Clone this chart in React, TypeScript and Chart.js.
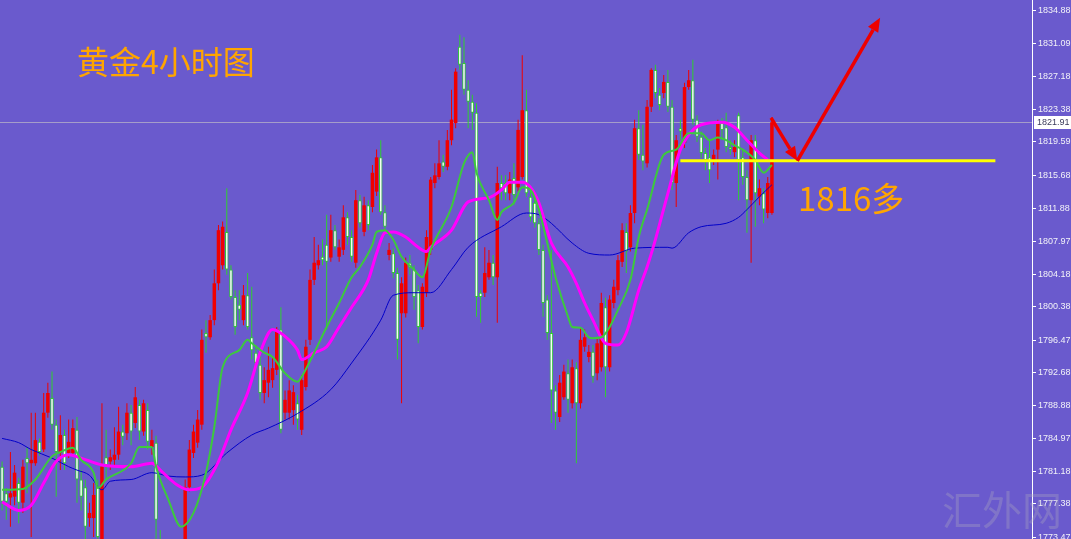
import React, { useEffect, useRef } from 'react';
import { Chart, registerables } from 'chart.js';

Chart.register(...registerables);

// ---- data (4-hour gold candles) ----
const SLOT_COUNT = 248; // candle slots across the plot (right part left empty)

const openPrices = [
  1781.7, 1778.6, 1778.1, 1778.2, 1779.8, 1777.5, 1782.7, 1782.1, 1782.1, 1784.6,
  1783.7, 1788.0, 1789.7, 1786.6, 1783.3, 1785.4, 1783.3, 1783.3, 1786.0, 1780.2,
  1779.3, 1775.7, 1775.7, 1779.3, 1773.1, 1782.8, 1782.3, 1782.5, 1783.1, 1785.8,
  1785.6, 1788.0, 1786.8, 1788.9, 1785.8, 1788.3, 1784.0, 1784.5, 1773.1, 1770.8,
  1772.0, 1770.2, 1770.8, 1772.2, 1771.4, 1779.3, 1783.3, 1784.5, 1786.6, 1797.3,
  1796.8, 1798.8, 1803.1, 1805.2, 1809.1, 1804.7, 1801.5, 1800.6, 1798.8, 1801.7,
  1796.8, 1795.0, 1793.6, 1790.3, 1791.5, 1791.8, 1793.0, 1797.7, 1788.0, 1788.0,
  1788.3, 1789.1, 1786.0, 1791.0, 1796.5, 1803.5, 1805.2, 1806.2, 1807.6, 1806.1,
  1809.3, 1806.2, 1807.0, 1810.8, 1808.5, 1805.5, 1812.8, 1809.1, 1812.2, 1812.0,
  1813.8, 1817.8, 1811.4, 1806.4, 1806.6, 1804.3, 1799.6, 1799.6, 1805.5, 1804.7,
  1802.3, 1798.0, 1802.0, 1807.0, 1814.8, 1815.5, 1817.3, 1816.7, 1819.8, 1821.8,
  1830.7, 1828.8, 1825.7, 1824.3, 1823.0, 1802.0, 1802.0, 1803.8, 1805.5, 1803.8,
  1814.8, 1814.8, 1813.6, 1815.4, 1814.3, 1815.5, 1823.3, 1813.2, 1812.5, 1810.1,
  1807.0, 1801.2, 1797.3, 1790.6, 1787.5, 1789.8, 1792.6, 1789.1, 1793.2, 1789.1,
  1795.7, 1794.5, 1795.1, 1792.6, 1793.3, 1800.3, 1793.3, 1800.8, 1802.3, 1805.6,
  1809.1, 1807.3, 1811.3, 1821.2, 1818.1, 1817.1, 1823.7, 1828.0, 1825.1, 1825.3,
  1826.6, 1823.7, 1814.8, 1821.2, 1819.5, 1826.0, 1826.8, 1822.2, 1820.2, 1818.3,
  1817.8, 1817.5, 1818.7, 1821.8, 1821.3, 1819.0, 1818.4, 1822.7, 1817.8, 1815.5,
  1812.8, 1819.8, 1813.2, 1813.6, 1811.3, 1811.3,
];

const highPrices = [
  1782.3, 1779.2, 1783.4, 1781.9, 1780.4, 1782.5, 1784.0, 1788.0, 1788.0, 1785.0,
  1790.3, 1791.5, 1792.8, 1787.2, 1787.7, 1786.0, 1787.2, 1787.2, 1787.5, 1781.3,
  1780.2, 1777.5, 1779.8, 1780.2, 1789.1, 1786.0, 1783.7, 1786.3, 1788.7, 1786.6,
  1789.1, 1788.9, 1791.0, 1789.5, 1789.5, 1789.1, 1786.0, 1785.3, 1774.3, 1772.6,
  1772.6, 1772.2, 1772.8, 1773.0, 1780.2, 1784.8, 1786.6, 1788.3, 1797.7, 1798.8,
  1799.4, 1804.7, 1809.9, 1810.3, 1814.2, 1805.2, 1802.3, 1802.3, 1802.9, 1804.3,
  1802.7, 1795.9, 1794.7, 1793.3, 1795.7, 1794.5, 1798.0, 1800.3, 1790.6, 1791.8,
  1791.2, 1790.1, 1792.4, 1796.5, 1804.7, 1808.5, 1807.6, 1808.2, 1811.1, 1811.1,
  1809.9, 1808.2, 1812.2, 1811.4, 1809.3, 1814.0, 1813.4, 1813.2, 1812.8, 1816.9,
  1818.7, 1819.8, 1812.2, 1807.8, 1807.2, 1804.9, 1803.8, 1806.1, 1806.4, 1805.2,
  1802.9, 1803.1, 1809.3, 1815.5, 1817.1, 1819.8, 1818.1, 1821.0, 1825.7, 1828.2,
  1832.1, 1831.8, 1826.8, 1825.1, 1824.1, 1802.3, 1807.3, 1807.0, 1806.4, 1816.7,
  1815.7, 1815.7, 1816.1, 1817.1, 1822.2, 1829.7, 1825.7, 1814.0, 1813.1, 1810.7,
  1807.6, 1801.7, 1807.0, 1791.2, 1792.4, 1793.6, 1794.2, 1794.2, 1793.9, 1798.0,
  1797.7, 1795.9, 1795.9, 1796.7, 1802.0, 1801.4, 1801.7, 1803.5, 1806.4, 1810.1,
  1810.1, 1812.2, 1822.2, 1823.3, 1821.6, 1824.5, 1828.2, 1828.6, 1825.9, 1827.4,
  1828.0, 1824.5, 1820.4, 1822.2, 1826.5, 1828.0, 1829.2, 1822.7, 1820.8, 1818.9,
  1819.8, 1818.7, 1822.2, 1822.4, 1823.0, 1819.8, 1819.8, 1823.0, 1818.7, 1816.3,
  1820.4, 1820.4, 1815.2, 1814.2, 1815.5, 1822.5,
];

const lowPrices = [
  1776.6, 1775.5, 1774.7, 1777.2, 1775.1, 1776.3, 1778.6, 1773.5, 1781.8, 1783.0,
  1783.4, 1787.4, 1786.0, 1778.2, 1781.3, 1781.3, 1782.7, 1783.0, 1777.5, 1776.6,
  1772.6, 1774.7, 1773.5, 1772.6, 1772.6, 1780.2, 1781.3, 1781.9, 1782.5, 1784.2,
  1784.8, 1784.2, 1786.2, 1784.8, 1785.3, 1783.7, 1783.1, 1772.6, 1770.8, 1769.6,
  1769.1, 1769.1, 1770.2, 1770.2, 1770.8, 1778.8, 1782.7, 1783.9, 1786.0, 1795.0,
  1796.5, 1798.2, 1802.3, 1804.7, 1804.1, 1801.2, 1797.1, 1798.8, 1798.2, 1797.7,
  1794.2, 1793.0, 1789.5, 1789.1, 1789.8, 1790.9, 1792.4, 1785.6, 1787.2, 1787.2,
  1786.6, 1786.0, 1785.4, 1790.6, 1795.9, 1802.9, 1804.7, 1805.2, 1797.7, 1805.6,
  1807.0, 1805.6, 1806.4, 1807.6, 1805.6, 1804.9, 1809.6, 1808.6, 1809.3, 1811.4,
  1813.3, 1811.1, 1809.1, 1805.8, 1803.7, 1794.2, 1789.1, 1799.1, 1804.1, 1800.0,
  1796.1, 1797.7, 1801.5, 1806.4, 1814.2, 1815.2, 1816.1, 1816.3, 1819.2, 1821.2,
  1828.0, 1825.1, 1821.2, 1821.0, 1799.2, 1798.5, 1801.5, 1803.5, 1802.9, 1798.5,
  1812.8, 1812.8, 1812.8, 1812.2, 1813.8, 1815.2, 1813.2, 1810.3, 1809.6, 1806.4,
  1799.2, 1796.5, 1786.8, 1786.0, 1786.9, 1789.5, 1788.0, 1788.5, 1782.1, 1788.5,
  1795.1, 1793.9, 1791.5, 1791.8, 1792.8, 1789.8, 1792.8, 1800.2, 1801.7, 1805.0,
  1804.3, 1806.8, 1810.1, 1817.5, 1816.3, 1816.6, 1823.1, 1824.7, 1823.3, 1824.7,
  1823.1, 1814.0, 1812.0, 1819.8, 1818.9, 1825.7, 1821.6, 1819.6, 1817.7, 1816.3,
  1814.8, 1816.9, 1815.2, 1819.8, 1818.4, 1818.1, 1817.8, 1812.8, 1814.6, 1809.0,
  1805.5, 1809.7, 1812.2, 1810.1, 1810.7, 1811.1,
];

const closePrices = [
  1777.6, 1777.6, 1778.6, 1781.0, 1777.5, 1781.7, 1782.1, 1782.5, 1784.8, 1783.4,
  1788.0, 1790.3, 1786.6, 1783.4, 1785.4, 1782.1, 1784.6, 1786.2, 1780.2, 1778.2,
  1774.7, 1776.3, 1778.4, 1773.5, 1781.7, 1781.9, 1782.8, 1783.1, 1785.8, 1785.2,
  1788.0, 1785.8, 1789.8, 1785.8, 1789.1, 1784.6, 1784.8, 1775.5, 1771.4, 1772.0,
  1770.2, 1771.4, 1772.2, 1771.0, 1779.3, 1783.7, 1785.8, 1787.2, 1796.5, 1796.8,
  1798.8, 1803.1, 1809.3, 1809.7, 1804.7, 1801.5, 1798.0, 1800.0, 1801.7, 1798.0,
  1795.3, 1793.8, 1790.3, 1791.8, 1793.0, 1793.2, 1797.7, 1786.0, 1789.5, 1790.6,
  1790.4, 1787.2, 1791.8, 1795.7, 1803.5, 1805.5, 1805.8, 1805.8, 1805.6, 1809.3,
  1807.3, 1807.3, 1810.8, 1808.5, 1806.2, 1812.8, 1810.1, 1812.2, 1809.9, 1816.0,
  1817.8, 1811.4, 1809.7, 1807.0, 1804.3, 1796.5, 1803.1, 1805.5, 1804.9, 1801.5,
  1798.0, 1802.7, 1808.5, 1815.2, 1815.7, 1817.1, 1816.7, 1819.8, 1822.2, 1827.8,
  1828.6, 1825.7, 1824.3, 1823.0, 1801.5, 1801.5, 1804.3, 1805.5, 1803.8, 1814.8,
  1814.2, 1813.6, 1815.2, 1813.4, 1821.0, 1823.3, 1813.6, 1810.8, 1810.1, 1807.0,
  1800.8, 1797.3, 1790.6, 1788.0, 1791.5, 1792.8, 1789.5, 1793.3, 1789.1, 1796.5,
  1796.8, 1795.1, 1792.2, 1796.1, 1800.8, 1793.3, 1801.2, 1802.7, 1805.8, 1809.3,
  1806.8, 1811.3, 1821.2, 1818.1, 1817.3, 1823.7, 1828.0, 1825.3, 1823.9, 1826.6,
  1823.7, 1814.8, 1819.8, 1820.8, 1826.0, 1826.8, 1822.2, 1820.2, 1818.3, 1817.5,
  1816.3, 1818.1, 1821.8, 1821.0, 1819.0, 1818.7, 1819.0, 1817.5, 1815.5, 1812.8,
  1819.8, 1813.6, 1814.2, 1811.7, 1814.8, 1821.9,
];

// moving averages read at sample candles: [candle index, value]
const maFast: [number, number][] = [
  [0, 1779.0], [5, 1779.1], [8, 1780.2], [12, 1782.9], [14, 1783.4], [17, 1783.9], [19, 1782.5],
  [22, 1781.0], [23, 1779.2], [25, 1780.2], [31, 1782.1], [33, 1784.0], [36, 1784.0], [37, 1781.7],
  [40, 1777.8], [43, 1774.7], [46, 1776.3], [49, 1781.0], [51, 1786.3], [53, 1793.3], [57, 1795.3],
  [59, 1796.5], [60, 1796.1], [63, 1795.0], [65, 1794.5], [68, 1792.6], [71, 1791.6], [72, 1792.2],
  [75, 1795.0], [78, 1798.0], [81, 1800.8], [84, 1803.8], [86, 1805.0], [89, 1807.6], [90, 1809.1],
  [92, 1809.3], [94, 1808.2], [96, 1806.2], [99, 1804.7], [101, 1803.8], [103, 1807.0], [108, 1812.0],
  [111, 1817.1], [113, 1818.4], [114, 1816.0], [117, 1812.8], [119, 1810.5], [120, 1811.4],
  [123, 1812.5], [125, 1814.3], [127, 1814.0], [129, 1811.7], [131, 1807.8], [133, 1803.8],
  [136, 1799.2], [137, 1798.0], [139, 1797.9], [141, 1796.8], [142, 1796.7], [144, 1796.8],
  [146, 1798.0], [148, 1800.0], [151, 1803.5], [153, 1808.5], [155, 1811.7], [159, 1818.1],
  [162, 1818.7], [165, 1820.6], [168, 1820.6], [170, 1819.8], [172, 1820.1], [174, 1819.8],
  [176, 1819.2], [178, 1818.7], [181, 1817.5], [183, 1816.0], [185, 1816.9],
];

const maMid: [number, number][] = [
  [0, 1777.6], [4, 1776.6], [7, 1777.2], [10, 1779.8], [13, 1782.3], [16, 1783.1], [19, 1782.7],
  [24, 1781.9], [31, 1781.7], [36, 1782.1], [38, 1781.3], [42, 1779.6], [45, 1779.0], [48, 1779.3],
  [52, 1782.3], [55, 1786.0], [59, 1790.3], [62, 1795.0], [65, 1797.7], [68, 1796.9], [71, 1795.3],
  [72, 1794.2], [75, 1795.0], [78, 1795.7], [81, 1798.0], [84, 1800.3], [88, 1803.5], [90, 1806.6],
  [92, 1809.0], [94, 1809.1], [97, 1808.5], [100, 1807.3], [102, 1806.8], [103, 1807.3],
  [108, 1809.3], [112, 1812.6], [117, 1813.1], [120, 1814.0], [122, 1814.9], [125, 1814.9],
  [127, 1814.3], [129, 1812.5], [132, 1807.8], [136, 1805.0], [138, 1803.1], [140, 1800.8],
  [142, 1798.8], [145, 1796.1], [148, 1795.9], [150, 1797.3], [153, 1802.3], [155, 1805.0],
  [157, 1808.2], [160, 1813.6], [163, 1818.7], [166, 1821.0], [168, 1821.6], [173, 1821.9],
  [176, 1821.3], [179, 1819.8], [182, 1818.3], [184, 1817.5],
];

const maSlow: [number, number][] = [
  [0, 1785.0], [4, 1784.5], [7, 1783.7], [12, 1782.7], [16, 1781.7], [18, 1781.3], [21, 1780.7],
  [24, 1779.0], [26, 1780.0], [31, 1780.2], [36, 1781.0], [40, 1780.6], [44, 1780.5], [48, 1780.7],
  [54, 1783.3], [60, 1785.4], [64, 1786.2], [71, 1787.9], [79, 1790.7], [84, 1793.8], [91, 1798.8],
  [94, 1801.7], [99, 1802.0], [103, 1802.0], [108, 1804.7], [112, 1807.3], [120, 1809.7],
  [126, 1811.3], [129, 1811.1], [132, 1810.1], [137, 1807.8], [141, 1806.6], [146, 1806.4],
  [152, 1807.2], [160, 1807.3], [161, 1807.2], [165, 1809.0], [168, 1809.7], [174, 1810.1],
  [177, 1810.8], [179, 1811.7], [182, 1813.2], [185, 1814.6],
];

const tickValues = [
  1834.88, 1831.09, 1827.18, 1823.38, 1819.59, 1815.68, 1811.88, 1807.97, 1804.18,
  1800.38, 1796.47, 1792.68, 1788.88, 1784.97, 1781.18, 1777.38, 1773.47,
];

const Y_MIN = 1773.26;
const Y_MAX = 1836.16;
const LAST_PRICE = 1821.91;

// annotations (in candle index / price units)
const supportLevel = 1817.4;
const supportFrom = 163;
const supportTo = 238.7;
const arrowPath = [
  { i: 184.8, v: 1822.4 },
  { i: 191.1, v: 1817.4 },
  { i: 211.0, v: 1834.1 },
];

// ---- styles ----
const BG = '#6A5ACD';
const UP_COLOR = '#F00000';
const DOWN_COLOR = '#2FD02F';
const DOWN_FILL = '#F4FFF0';
const AXIS_FONT = '"Liberation Sans", Arial, sans-serif';

function drawArrow(ctx: CanvasRenderingContext2D, x1: number, y1: number, x2: number, y2: number, color: string, w: number, head: number) {
  const ang = Math.atan2(y2 - y1, x2 - x1);
  const bx = x2 - head * Math.cos(ang);
  const by = y2 - head * Math.sin(ang);
  ctx.strokeStyle = color;
  ctx.lineWidth = w;
  ctx.beginPath();
  ctx.moveTo(x1, y1);
  ctx.lineTo(bx, by);
  ctx.stroke();
  const hw = head * 0.42;
  ctx.fillStyle = color;
  ctx.beginPath();
  ctx.moveTo(x2, y2);
  ctx.lineTo(bx + hw * Math.sin(ang), by - hw * Math.cos(ang));
  ctx.lineTo(bx - hw * Math.sin(ang), by + hw * Math.cos(ang));
  ctx.closePath();
  ctx.fill();
}

const annotationPlugin = {
  id: 'annotations',
  beforeDatasetsDraw(chart: any) {
    const { ctx, chartArea, scales } = chart;
    const py = Math.round(scales.y.getPixelForValue(LAST_PRICE)) + 0.5;
    ctx.save();
    ctx.strokeStyle = '#A59DC9';
    ctx.lineWidth = 1;
    ctx.beginPath();
    ctx.moveTo(chartArea.left, py);
    ctx.lineTo(chartArea.right, py);
    ctx.stroke();
    ctx.restore();
  },
  afterDatasetsDraw(chart: any) {
    const { ctx, scales } = chart;
    const x = scales.x;
    const y = scales.y;
    ctx.save();
    const sy = y.getPixelForValue(supportLevel);
    ctx.strokeStyle = '#FFFF00';
    ctx.lineWidth = 3;
    ctx.beginPath();
    ctx.moveTo(x.getPixelForValue(supportFrom), sy);
    ctx.lineTo(x.getPixelForValue(supportTo), sy);
    ctx.stroke();
    const pts = arrowPath.map((p) => ({ px: x.getPixelForValue(p.i), py: y.getPixelForValue(p.v) }));
    for (let k = 0; k < pts.length - 1; k++) {
      drawArrow(ctx, pts[k].px, pts[k].py, pts[k + 1].px, pts[k + 1].py, '#EE0000', 3.5, 14);
    }
    ctx.restore();
  },
  afterDraw(chart: any) {
    const { ctx, chartArea, scales, width } = chart;
    const py = Math.round(scales.y.getPixelForValue(LAST_PRICE));
    ctx.save();
    ctx.fillStyle = '#FFFFFF';
    ctx.fillRect(chartArea.right + 2, py - 6, width - chartArea.right - 2, 13);
    ctx.fillStyle = '#3A3A5A';
    ctx.font = '9px ' + AXIS_FONT;
    ctx.textBaseline = 'middle';
    ctx.textAlign = 'left';
    ctx.fillText(LAST_PRICE.toFixed(2), chartArea.right + 5, py + 0.5);
    ctx.restore();
  },
};

export default function App() {
  const canvasRef = useRef<HTMLCanvasElement | null>(null);

  useEffect(() => {
    document.body.style.margin = '0';
    const canvas = canvasRef.current;
    if (!canvas) return;

    const labels = Array.from({ length: SLOT_COUNT }, (_, i) => String(i));
    const isUp = closePrices.map((c, i) => c >= openPrices[i]);
    const bodies = closePrices.map((c, i) => [openPrices[i], c]);
    const wicks = lowPrices.map((l, i) => [l, highPrices[i]]);
    const toPoints = (arr: [number, number][]) => arr.map(([i, v]) => ({ x: String(i), y: v }));

    const chart = new Chart(canvas, {
      type: 'bar',
      data: {
        labels,
        datasets: [
          {
            type: 'line',
            label: 'MA fast',
            data: toPoints(maFast) as any,
            borderColor: '#3DC93D',
            borderWidth: 2,
            pointRadius: 0,
            cubicInterpolationMode: 'monotone',
            order: 0,
          } as any,
          {
            type: 'line',
            label: 'MA mid',
            data: toPoints(maMid) as any,
            borderColor: '#FF00FF',
            borderWidth: 3,
            pointRadius: 0,
            cubicInterpolationMode: 'monotone',
            order: 1,
          } as any,
          {
            type: 'line',
            label: 'MA slow',
            data: toPoints(maSlow) as any,
            borderColor: '#0000C8',
            borderWidth: 1,
            pointRadius: 0,
            cubicInterpolationMode: 'monotone',
            order: 2,
          } as any,
          {
            type: 'bar',
            label: 'body',
            data: bodies as any,
            backgroundColor: isUp.map((u) => (u ? UP_COLOR : DOWN_FILL)),
            borderColor: isUp.map((u) => (u ? UP_COLOR : DOWN_COLOR)),
            borderWidth: isUp.map((u) => (u ? 0 : 1)),
            borderSkipped: false,
            barThickness: 3.5,
            minBarLength: 2,
            grouped: false,
            inflateAmount: 0,
            order: 3,
          } as any,
          {
            type: 'bar',
            label: 'wick',
            data: wicks as any,
            backgroundColor: isUp.map((u) => (u ? UP_COLOR : DOWN_COLOR)),
            borderWidth: 0,
            barThickness: 1,
            grouped: false,
            inflateAmount: 0,
            order: 4,
          } as any,
        ],
      },
      options: {
        responsive: false,
        animation: false,
        devicePixelRatio: 1,
        layout: { padding: 0 },
        plugins: { legend: { display: false }, tooltip: { enabled: false } },
        scales: {
          x: { display: false, offset: true },
          y: {
            position: 'right',
            min: Y_MIN,
            max: Y_MAX,
            afterBuildTicks: (s: any) => {
              s.ticks = tickValues.map((v) => ({ value: v }));
            },
            afterFit: (s: any) => {
              s.width = 39;
              s.paddingTop = 0;
              s.paddingBottom = 0;
            },
            ticks: {
              autoSkip: false,
              color: '#F2F2F8',
              padding: 2,
              font: { family: AXIS_FONT, size: 9 },
              callback: (v: any) => Number(v).toFixed(2),
            },
            grid: { drawOnChartArea: false, drawTicks: true, tickLength: 4, color: '#FFFFFF' },
            border: { display: true, color: '#FFFFFF', width: 1 },
          },
        },
      } as any,
      plugins: [annotationPlugin],
    });

    return () => chart.destroy();
  }, []);

  return (
    <div style={{ position: 'fixed', left: 0, top: 0, width: 1071, height: 539, background: BG, overflow: 'hidden' }}>
      <canvas ref={canvasRef} width={1071} height={539} style={{ display: 'block', width: 1071, height: 539 }} />
      <div
        style={{
          position: 'absolute', left: 77, top: 44, fontSize: 32, lineHeight: '32px',
          fontFamily: '"Noto Sans CJK SC", sans-serif', color: '#FFA500', whiteSpace: 'nowrap',
        }}
      >
        黄金4小时图
      </div>
      <div
        style={{
          position: 'absolute', left: 798, top: 181, fontSize: 33, lineHeight: '33px',
          fontFamily: '"Noto Sans CJK SC", sans-serif', color: '#FFA500', whiteSpace: 'nowrap',
        }}
      >
        1816多
      </div>
      <div
        style={{
          position: 'absolute', left: 942, top: 486, fontSize: 40, lineHeight: '44px',
          fontFamily: '"Noto Sans CJK SC", sans-serif', color: 'rgba(175,172,190,0.32)', whiteSpace: 'nowrap',
          pointerEvents: 'none',
        }}
      >
        汇外网
      </div>
    </div>
  );
}
